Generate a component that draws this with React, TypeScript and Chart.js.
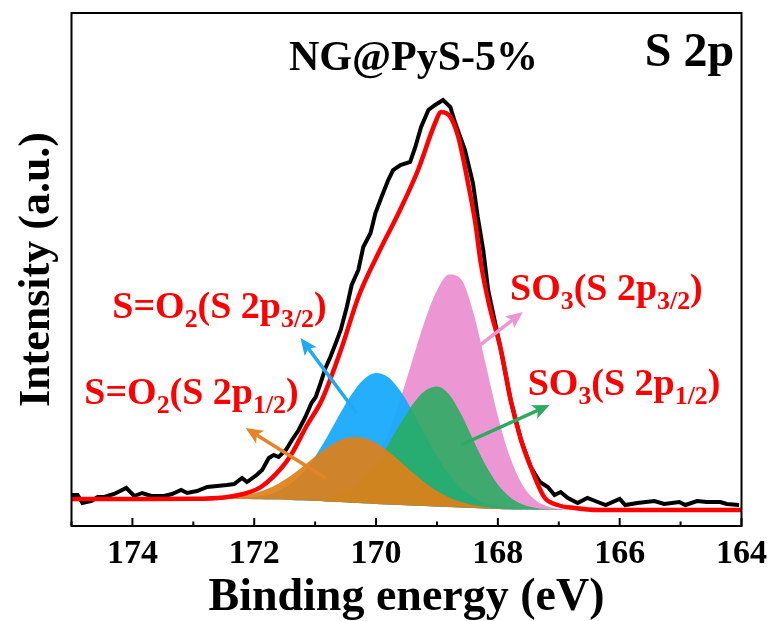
import React, { useEffect, useRef } from 'react';
import { Chart, registerables } from 'chart.js';

Chart.register(...registerables);

const FONT = "'Liberation Serif', 'Times New Roman', serif";

// Raw spectrum (binding energy in eV, intensity in a.u.)
const rawEnergy = [175.0, 174.9, 174.82, 174.67, 174.57, 174.46, 174.3, 174.1, 173.97, 173.84, 173.69, 173.48, 173.35, 173.2, 173.1, 172.94, 172.77, 172.61, 172.45, 172.33, 172.2, 172.12, 171.96, 171.87, 171.76, 171.68, 171.6, 171.48, 171.38, 171.27, 171.16, 171.06, 170.99, 170.91, 170.83, 170.75, 170.66, 170.58, 170.48, 170.4, 170.29, 170.21, 170.09, 170.01, 169.91, 169.8, 169.72, 169.6, 169.44, 169.36, 169.26, 169.14, 169.03, 168.9, 168.78, 168.7, 168.54, 168.41, 168.33, 168.24, 168.16, 167.95, 167.79, 167.62, 167.46, 167.31, 167.18, 167.07, 166.97, 166.85, 166.69, 166.53, 166.36, 166.23, 166.0, 165.91, 165.71, 165.43, 165.27, 165.02, 164.92, 164.73, 164.57, 164.35, 164.24, 164.04];
const rawIntensity = [31, 31, 23, 25, 29, 29, 32, 38, 30, 33, 30, 30, 32, 36, 33, 35, 39, 40, 41, 42, 48, 44, 51, 56, 68, 71, 69, 76, 86, 96, 109, 123, 129, 143, 158, 169, 183, 196, 219, 241, 256, 279, 293, 313, 329, 346, 356, 361, 364, 378, 399, 416, 421, 426, 419, 403, 376, 343, 309, 276, 236, 176, 126, 86, 59, 44, 39, 31, 34, 28, 23, 28, 24, 21, 27, 21, 23, 25, 22, 24, 21, 25, 24, 24, 22, 21];

// Fitted envelope
const fitEnergy = [175.0, 174.0, 173.0, 172.5, 172.3, 172.14, 171.89, 171.54, 171.38, 171.14, 170.89, 170.56, 170.29, 169.96, 169.63, 169.31, 169.03, 168.93, 168.78, 168.65, 168.49, 168.37, 168.28, 168.15, 167.95, 167.79, 167.62, 167.46, 167.24, 167.02, 166.74, 166.36, 165.0, 164.0];
const fitIntensity = [27, 27, 27.2, 28.5, 30.5, 32.7, 39, 59, 72.7, 100, 126, 179, 229, 273, 313, 356, 403, 414, 409, 389, 343, 303, 263, 223, 176, 126, 86, 59, 29, 21, 18, 16, 16, 16];

// Components (shared energy grid)
const compEnergy = [173.0, 172.8, 172.6, 172.4, 172.2, 172.0, 171.8, 171.6, 171.4, 171.2, 171.0, 170.8, 170.6, 170.4, 170.2, 170.0, 169.8, 169.6, 169.4, 169.2, 169.0, 168.8, 168.6, 168.4, 168.2, 168.0, 167.8, 167.6, 167.4, 167.2, 167.0, 166.8, 166.6, 166.4, 166.2, 166.0];
const backgroundLine = [27, 27, 27, 27, 26.9, 26.8, 26.6, 26.4, 26.1, 25.7, 25.2, 24.6, 24, 23.3, 22.7, 22.1, 21.6, 21.1, 20.6, 20.1, 19.6, 19.0, 18.5, 18.0, 17.5, 17.1, 16.8, 16.5, 16.3, 16.2, 16.1, 16, 16, 16, 16, 16];
const so2P32 = [27, 27, 27.1, 27.3, 27.7, 28.7, 30.9, 35.1, 42.4, 53.6, 69.6, 89.5, 111.4, 131.8, 146.8, 153, 148.8, 135, 114.6, 91.6, 69.8, 51.4, 37.8, 28.6, 22.8, 19.6, 17.9, 16.9, 16.4, 16.2, 16.1, 16, 16, 16, 16, 16];
const so2P12 = [27.2, 27.4, 27.8, 28.7, 30.1, 32.7, 36.7, 42.6, 50.3, 59.5, 69.4, 78.5, 85.5, 88.8, 88, 83, 74.6, 64.2, 53.4, 43.5, 35.1, 28.6, 24.1, 21, 19, 17.8, 17.1, 16.6, 16.3, 16.2, 16.1, 16, 16, 16, 16, 16];
const so3P32 = [27, 27, 27, 27, 26.9, 26.8, 26.6, 26.4, 26.1, 26.1, 26.4, 27.4, 30.4, 36.4, 47.7, 66.1, 92.8, 127.3, 166.6, 205.1, 235.6, 251.5, 246.5, 213, 162.1, 110.1, 68.7, 41.6, 26.8, 20, 17.3, 16.3, 16, 16, 16, 16];
const so3P12 = [27, 27, 27, 27, 26.9, 26.8, 26.6, 26.5, 26.3, 26.3, 26.8, 28.2, 31.5, 37.7, 48, 62.8, 81.6, 102.4, 121.6, 135.1, 139.6, 131.6, 111.5, 85.6, 60.7, 41.5, 28.8, 21.8, 18.3, 16.9, 16.3, 16, 16, 16, 16, 16];

const xTickLabels = [174, 172, 170, 168, 166, 164];

const pts = (xs: number[], ys: number[]) => xs.map((x, i) => ({ x, y: ys[i] }));

type Part = { t: string; sub?: boolean };
const annotations: { e: number; v: number; parts: Part[] }[] = [
  { e: 174.33, v: 208, parts: [{ t: 'S=O' }, { t: '2', sub: true }, { t: '(S 2p' }, { t: '3/2', sub: true }, { t: ')' }] },
  { e: 174.79, v: 122, parts: [{ t: 'S=O' }, { t: '2', sub: true }, { t: '(S 2p' }, { t: '1/2', sub: true }, { t: ')' }] },
  { e: 167.8, v: 226, parts: [{ t: 'SO' }, { t: '3', sub: true }, { t: '(S 2p' }, { t: '3/2', sub: true }, { t: ')' }] },
  { e: 167.51, v: 131, parts: [{ t: 'SO' }, { t: '3', sub: true }, { t: '(S 2p' }, { t: '1/2', sub: true }, { t: ')' }] },
];
const arrows = [
  { from: [170.32, 113], to: [171.24, 188], color: 'rgb(30,170,240)' },
  { from: [170.83, 48], to: [172.14, 98], color: 'rgb(232,130,40)' },
  { from: [168.46, 173], to: [167.59, 214], color: 'rgb(236,150,210)' },
  { from: [168.61, 81], to: [167.15, 121], color: 'rgb(45,170,95)' },
];

const overlay = {
  id: 'overlay',
  afterDatasetsDraw(chart: any) {
    const { ctx, chartArea: a, scales } = chart;
    const xs = scales.x;
    const ys = scales.y;
    ctx.save();
    // arrows
    for (const ar of arrows) {
      const x1 = xs.getPixelForValue(ar.from[0]);
      const y1 = ys.getPixelForValue(ar.from[1]);
      const x2 = xs.getPixelForValue(ar.to[0]);
      const y2 = ys.getPixelForValue(ar.to[1]);
      const ang = Math.atan2(y2 - y1, x2 - x1);
      const hl = 17;
      const hw = 7.5;
      const bx = x2 - hl * Math.cos(ang);
      const by = y2 - hl * Math.sin(ang);
      ctx.strokeStyle = ar.color;
      ctx.fillStyle = ar.color;
      ctx.lineWidth = 3.5;
      ctx.beginPath();
      ctx.moveTo(x1, y1);
      ctx.lineTo(bx + 4 * Math.cos(ang), by + 4 * Math.sin(ang));
      ctx.stroke();
      ctx.beginPath();
      ctx.moveTo(x2, y2);
      ctx.lineTo(bx + hw * Math.sin(ang), by - hw * Math.cos(ang));
      ctx.lineTo(bx + 4 * Math.cos(ang), by + 4 * Math.sin(ang));
      ctx.lineTo(bx - hw * Math.sin(ang), by + hw * Math.cos(ang));
      ctx.closePath();
      ctx.fill();
    }
    // frame
    ctx.strokeStyle = '#000';
    ctx.lineWidth = 2;
    ctx.strokeRect(a.left, a.top, a.right - a.left, a.bottom - a.top);
    // inward ticks
    ctx.lineWidth = 2;
    for (let v = 164; v <= 175; v++) {
      const px = xs.getPixelForValue(v);
      const len = v % 2 === 0 ? 8 : 4.5;
      ctx.beginPath();
      ctx.moveTo(px, a.bottom);
      ctx.lineTo(px, a.bottom - len);
      ctx.stroke();
    }
    // labels
    const size = 38;
    for (const an of annotations) {
      let cx = xs.getPixelForValue(an.e);
      const by = ys.getPixelForValue(an.v);
      ctx.fillStyle = '#ff0000';
      ctx.textBaseline = 'alphabetic';
      ctx.textAlign = 'left';
      for (const p of an.parts) {
        const fs = p.sub ? size * 0.68 : size;
        ctx.font = `bold ${fs}px ${FONT}`;
        ctx.fillText(p.t, cx, p.sub ? by + size * 0.24 : by);
        cx += ctx.measureText(p.t).width;
      }
    }
    ctx.fillStyle = '#000';
    ctx.font = `bold 42px ${FONT}`;
    ctx.textAlign = 'left';
    ctx.fillText('NG@PyS-5%', xs.getPixelForValue(171.43), ys.getPixelForValue(456));
    ctx.font = `bold 48px ${FONT}`;
    ctx.textAlign = 'right';
    ctx.fillText('S 2p', xs.getPixelForValue(164.12), ys.getPixelForValue(460));
    ctx.restore();
  },
};

export default function App() {
  const ref = useRef<HTMLCanvasElement | null>(null);
  useEffect(() => {
    document.body.style.margin = '0';
    const canvas = ref.current;
    if (!canvas) return;
    const lineBase = { pointRadius: 0, borderWidth: 0, cubicInterpolationMode: 'monotone' as const };
    const chart = new Chart(canvas, {
      type: 'line',
      data: {
        datasets: [
          { label: 'Fit', data: pts(fitEnergy, fitIntensity), borderColor: '#ff0000', borderWidth: 4.5, pointRadius: 0, cubicInterpolationMode: 'monotone', fill: false, order: 0 },
          { label: 'Raw', data: pts(rawEnergy, rawIntensity), borderColor: '#000000', borderWidth: 4, pointRadius: 0, tension: 0, fill: false, order: 1 },
          { label: 'S=O2 2p1/2', data: pts(compEnergy, so2P12), ...lineBase, backgroundColor: 'rgba(222,128,25,0.92)', borderColor: 'rgba(0,0,0,0)', fill: 6, order: 2 },
          { label: 'SO3 2p1/2', data: pts(compEnergy, so3P12), ...lineBase, backgroundColor: 'rgba(40,172,95,0.88)', borderColor: 'rgba(0,0,0,0)', fill: 6, order: 3 },
          { label: 'S=O2 2p3/2', data: pts(compEnergy, so2P32), ...lineBase, backgroundColor: 'rgba(25,170,252,0.95)', borderColor: 'rgba(0,0,0,0)', fill: 6, order: 4 },
          { label: 'SO3 2p3/2', data: pts(compEnergy, so3P32), ...lineBase, backgroundColor: 'rgba(236,150,212,1)', borderColor: 'rgba(0,0,0,0)', fill: 6, order: 5 },
          { label: 'Background', data: pts(compEnergy, backgroundLine), ...lineBase, borderColor: 'rgba(0,0,0,0)', fill: false, order: 6 },
        ],
      },
      options: {
        responsive: false,
        animation: false,
        events: [],
        layout: { padding: { left: 0, right: 31, top: 13, bottom: 0 } },
        plugins: { legend: { display: false }, tooltip: { enabled: false } },
        scales: {
          x: {
            type: 'linear',
            reverse: true,
            min: 164,
            max: 175,
            grid: { display: false, drawTicks: false },
            border: { display: false },
            ticks: {
              stepSize: 1,
              autoSkip: false,
              maxRotation: 0,
              padding: 8,
              color: '#000',
              font: { family: FONT, size: 34, weight: 'bold' },
              callback: (v: any) => (xTickLabels.includes(Number(v)) ? String(v) : ''),
            },
            title: {
              display: true,
              text: 'Binding energy (eV)',
              color: '#000',
              font: { family: FONT, size: 46, weight: 'bold', lineHeight: 1 },
              padding: { top: 0, bottom: 0 },
            },
            afterFit: (s: any) => { s.height = 95; },
          },
          y: {
            min: 0,
            max: 513,
            grid: { display: false, drawTicks: false },
            border: { display: false },
            ticks: { display: false },
            title: {
              display: true,
              text: 'Intensity (a.u.)',
              color: '#000',
              font: { family: FONT, size: 44, weight: 'bold' },
              padding: { top: 11, bottom: 0 },
            },
            afterFit: (s: any) => { s.width = 71.5; },
          },
        },
      },
      plugins: [overlay],
    } as any);
    return () => chart.destroy();
  }, []);
  return (
    <div style={{ position: 'absolute', left: 0, top: 0, width: 775, height: 621 }}>
      <canvas ref={ref} width={775} height={621} />
    </div>
  );
}
